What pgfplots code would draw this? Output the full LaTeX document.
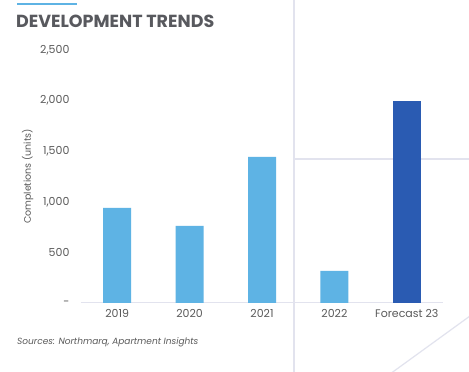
\documentclass[border=0pt]{standalone}
\usepackage{pgfplots}
\pgfplotsset{compat=1.18}
\usepackage{fontspec}
\setmainfont{Poppins}
\definecolor{lightbar}{HTML}{5EB3E4}
\definecolor{darkbar}{HTML}{2A5BB2}
\definecolor{txt}{HTML}{5A5A5A}
\definecolor{titlec}{HTML}{58595E}
\definecolor{deco}{HTML}{E2E3EE}
\begin{document}
\begin{tikzpicture}
\useasboundingbox (0pt,0pt) rectangle (469pt,372pt);
\fill[white] (0pt,0pt) rectangle (469pt,372pt);
% page decorations
\draw[deco, line width=1.2pt] (294pt,372pt) -- (294pt,0pt);
\draw[deco, line width=1.2pt] (294pt,213pt) -- (469pt,213pt);
\draw[deco, line width=1.2pt] (470pt,56pt) -- (390pt,-2pt);
\draw[lightbar, line width=2pt] (17pt,368pt) -- (77pt,368pt);
\node[anchor=west, inner sep=0pt, text=titlec, font=\fontsize{17.5}{19}\selectfont\bfseries] at (16pt,351pt) {DEVELOPMENT TRENDS};
\begin{axis}[
  at={(81pt,69pt)}, anchor=south west,
  scale only axis, width=362pt, height=253pt,
  xmin=-0.5, xmax=4.5, ymin=0, ymax=2500,
  axis x line*=bottom, axis y line*=left,
  x axis line style={deco, line width=1pt, -},
  y axis line style={draw=none, -},
  xtick={0,1,2,3,4},
  xticklabels={2019,2020,2021,2022,Forecast 23},
  xtick style={draw=none},
  ytick={0,500,1000,1500,2000,2500},
  yticklabels={-,500,{1,000},{1,500},{2,000},{2,500}},
  ytick style={draw=none},
  ticklabel style={text=txt, font=\fontsize{11}{13}\selectfont},
  xticklabel style={yshift=-3pt},
  yticklabel style={xshift=-8pt},
  ylabel={Completions (units)},
  ylabel style={text=txt, font=\fontsize{9.5}{11}\selectfont},
  bar width=28pt,
  clip=false,
]
\addplot[ybar, fill=lightbar, draw=none] coordinates {(0,940) (1,762) (2,1445) (3,317)};
\addplot[ybar, fill=darkbar, draw=none] coordinates {(4,2000)};
\end{axis}
\node[anchor=west, inner sep=0pt, text=txt, font=\fontsize{9}{10}\selectfont\itshape] at (17pt,30pt) {Sources: Northmarq, Apartment Insights};
\end{tikzpicture}
\end{document}
